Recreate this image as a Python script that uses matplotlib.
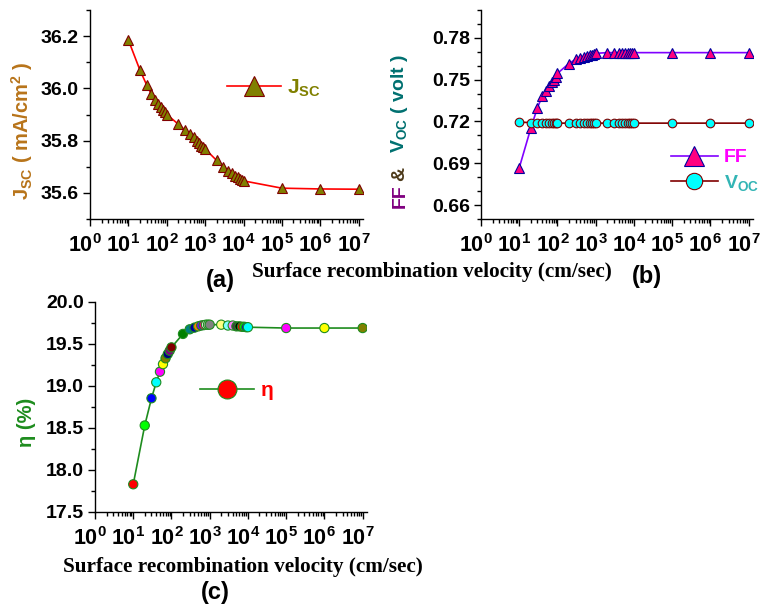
import numpy as np
import matplotlib
matplotlib.use("Agg")
import matplotlib.pyplot as plt
from matplotlib.lines import Line2D
from matplotlib.transforms import ScaledTranslation
from matplotlib.ticker import LogLocator, FuncFormatter, MultipleLocator, NullFormatter

plt.rcParams['font.family'] = ['Liberation Sans', 'DejaVu Sans']
plt.rcParams['font.weight'] = 'bold'
plt.rcParams['mathtext.fontset'] = 'custom'
plt.rcParams['mathtext.rm'] = 'Liberation Sans:bold'
plt.rcParams['mathtext.bf'] = 'Liberation Sans:bold'
plt.rcParams['mathtext.it'] = 'Liberation Sans:bold'

# surface recombination velocity (cm/sec)
S = [10, 20, 30, 40, 50, 60, 70, 80, 90,
     100, 200, 300, 400, 500, 600, 700, 800, 900,
     1000, 2000, 3000, 4000, 5000, 6000, 7000, 8000, 9000,
     1e4, 1e5, 1e6, 1e7]

jsc = [36.185, 36.07, 36.013, 35.977, 35.955, 35.94, 35.927, 35.917, 35.908,
       35.90, 35.863, 35.84, 35.825, 35.813, 35.80, 35.79, 35.78, 35.775,
       35.768, 35.724, 35.70, 35.685, 35.675, 35.666, 35.66, 35.654, 35.65,
       35.646, 35.618, 35.615, 35.614]

ff = [0.6867, 0.715, 0.730, 0.738, 0.742, 0.7458, 0.748, 0.7498, 0.7517,
      0.7545, 0.7616, 0.7647, 0.7658, 0.7665, 0.7672, 0.7677, 0.768, 0.7684,
      0.7689, 0.7694, 0.7694, 0.7694, 0.7694, 0.7694, 0.7694, 0.7694, 0.7694,
      0.7694, 0.7694, 0.7694, 0.7694]

voc = [0.7195, 0.7192, 0.7192, 0.7192, 0.7190, 0.7189, 0.7188, 0.7188, 0.7188,
       0.7188, 0.7188, 0.7188, 0.7188, 0.7188, 0.7188, 0.7188, 0.7188, 0.7188,
       0.7188, 0.7188, 0.7188, 0.7188, 0.7188, 0.7188, 0.7188, 0.7188, 0.7188,
       0.7188, 0.7188, 0.7188, 0.7188]

eta = [17.83, 18.53, 18.854, 19.044, 19.17, 19.26, 19.33, 19.38, 19.42,
       19.46, 19.62, 19.675, 19.695, 19.71, 19.72, 19.725, 19.73, 19.73,
       19.73, 19.73, 19.72, 19.72, 19.71, 19.71, 19.705, 19.705, 19.70,
       19.70, 19.69, 19.69, 19.69]

# per-point marker colours of panel (c)
eta_colors = ['#FF0000', '#00FF00', '#0000FF', '#00FFFF', '#FF00FF', '#FFFF00',
              '#808000', '#000080', '#800080', '#800000', '#008000', '#008080',
              '#0000A0', '#FF8000', '#8000FF', '#FF0080', '#FFFFFF', '#C0C0C0',
              '#808080', '#FFFF80', '#80FFFF', '#FF80FF', '#404040', '#000000',
              '#FF0000', '#00FF00', '#0000FF', '#00FFFF', '#FF00FF', '#FFFF00',
              '#808000']

W, H = 764, 605
fig = plt.figure(figsize=(W / 100, H / 100), dpi=100)


def px_axes(l, t, r, b):
    return fig.add_axes([l / W, 1 - b / H, (r - l) / W, (b - t) / H])


def fig_text(x, y, s, **kw):
    return fig.text(x / W, 1 - y / H, s, **kw)


def style(ax, ymin, ymax, major, minor, fmt):
    ax.set_xscale('log')
    ax.set_xlim(1, 1.3e7)
    ax.set_ylim(ymin, ymax)
    ax.xaxis.set_major_locator(LogLocator(base=10, numticks=20))
    ax.xaxis.set_minor_locator(LogLocator(base=10, subs=np.arange(2, 10), numticks=20))
    ax.xaxis.set_minor_formatter(NullFormatter())
    ax.xaxis.set_major_formatter(FuncFormatter(lambda v, p: r'$\mathbf{10^{%d}}$' % round(np.log10(v))))
    ax.yaxis.set_major_locator(MultipleLocator(major))
    ax.yaxis.set_minor_locator(MultipleLocator(minor))
    ax.yaxis.set_major_formatter(FuncFormatter(lambda v, p: fmt % v))
    for sp in ['top', 'right']:
        ax.spines[sp].set_visible(False)
    for sp in ['left', 'bottom']:
        ax.spines[sp].set_linewidth(1.0)
    ax.tick_params(which='major', direction='out', length=5, width=1)
    ax.tick_params(which='minor', direction='out', length=3, width=1)
    ax.tick_params(axis='x', which='major', pad=6, labelsize=15.5)
    ax.tick_params(axis='y', which='major', pad=3, labelsize=14)
    # x tick labels sit a little left of their ticks in the original
    shift = ScaledTranslation(-5 / 100, 0, fig.dpi_scale_trans)
    for lab in ax.get_xticklabels():
        lab.set_transform(lab.get_transform() + shift)


# ---- (a) Jsc
ax1 = px_axes(90, 10, 363, 219)
style(ax1, 35.5, 36.3, 0.2, 0.1, '%.1f')
ax1.plot(S, jsc, color='#FF0000', lw=1.2, marker='^', ms=7.5, mfc='#808000',
         mec='#800000', mew=0.8, label=r'J$_{\rm SC}$')
leg = ax1.legend(loc='center left', bbox_to_anchor=((227 - 90) / 273, (219 - 88) / 209),
                 frameon=False, fontsize=15, handlelength=2.6, markerscale=1.9,
                 borderpad=0, borderaxespad=0, handletextpad=0.3)
for t in leg.get_texts():
    t.set_color('#808000')
fig_text(22, 131, r'J$_{\rm SC}$ ( mA/cm$^{\rm 2}$ )', rotation=90, ha='center', va='center',
         fontsize=14.5, color='#B8741A')

# ---- (b) FF & Voc
ax2 = px_axes(481, 10, 753, 219)
style(ax2, 0.65, 0.80, 0.03, 0.01, '%.2f')
l_ff, = ax2.plot(S, ff, color='#8000FF', lw=1.2, marker='^', ms=7.5, mfc='#FF0080',
                 mec='#0000A0', mew=0.8, label='FF')
l_voc, = ax2.plot(S, voc, color='#800000', lw=1.2, marker='o', ms=6.2, mfc='#00FFFF',
                  mec='#800000', mew=0.8, label=r'V$_{\rm OC}$')
leg2 = ax2.legend(loc='center left', bbox_to_anchor=((671 - 481) / 272, (219 - 171) / 209),
                  frameon=False, fontsize=14, handlelength=2.4, markerscale=1.9,
                  borderpad=0, borderaxespad=0, handletextpad=0.3, labelspacing=0.35)
for t, c in zip(leg2.get_texts(), ['#FF00FF', '#33B5B5']):
    t.set_color(c)
fig_text(400, 196, 'FF', rotation=90, ha='center', va='center', fontsize=14, color='#800080')
fig_text(400, 174, '&', rotation=90, ha='center', va='center', fontsize=14, color='#4D3A1A')
fig_text(400, 103, r'V$_{\rm OC}$ ( volt )', rotation=90, ha='center', va='center',
         fontsize=14, color='#007070')

fig_text(432, 272, 'Surface recombination velocity (cm/sec)', family='Liberation Serif',
         fontsize=15.3, ha='center', va='center')
fig_text(220, 280, '(a)', fontsize=17, ha='center', va='center')
fig_text(647, 276, '(b)', fontsize=17, ha='center', va='center')

# ---- (c) efficiency
ax3 = px_axes(95, 302, 367, 512)
style(ax3, 17.5, 20.0, 0.5, 0.25, '%.1f')
ax3.plot(S, eta, color='#1E8C1E', lw=1.2, zorder=2)
ax3.scatter(S, eta, s=44, c=eta_colors, edgecolors='#1E8C1E', linewidths=0.8, zorder=3)
proxy = Line2D([], [], color='#1E8C1E', lw=1.2, marker='o', ms=6.2, mfc='#FF0000',
               mec='#1E8C1E', mew=0.8)
leg3 = ax3.legend([proxy], ['η'], loc='center left',
                  bbox_to_anchor=((200 - 95) / 272, (512 - 391) / 210),
                  frameon=False, fontsize=15, handlelength=2.6, markerscale=2.2,
                  borderpad=0, borderaxespad=0, handletextpad=0.3)
for t in leg3.get_texts():
    t.set_color('#FF0000')
fig_text(27, 422, 'η (%)', rotation=90, ha='center', va='center', fontsize=14.5, color='#1E8C1E')
fig_text(243, 567, 'Surface recombination velocity (cm/sec)', family='Liberation Serif',
         fontsize=15.3, ha='center', va='center')
fig_text(215, 592, '(c)', fontsize=17, ha='center', va='center')

fig.savefig('out.png', dpi=100)
